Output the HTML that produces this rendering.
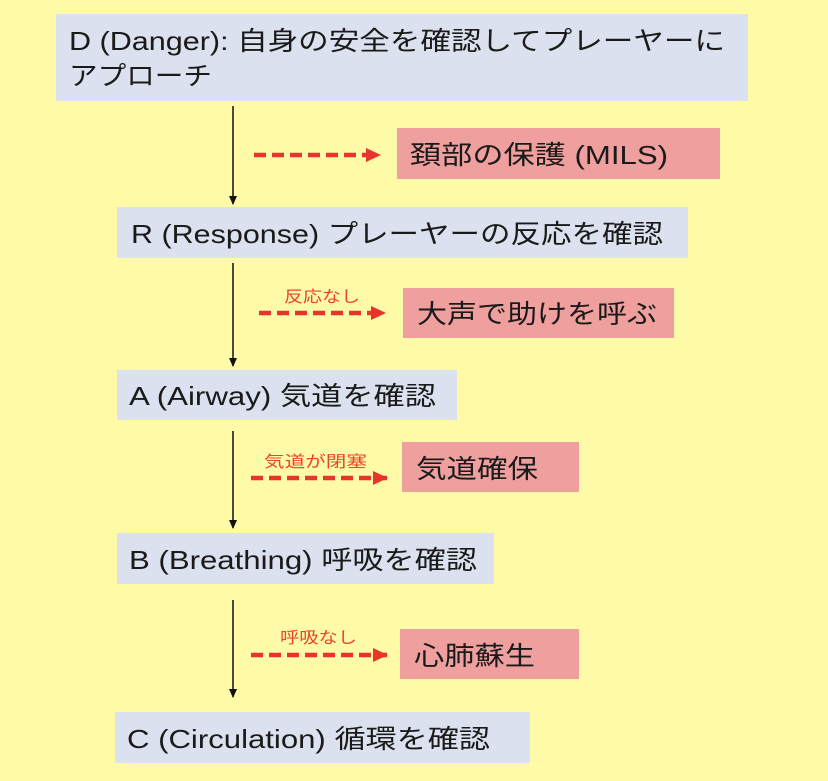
<!DOCTYPE html>
<html><head><meta charset="utf-8"><style>
html,body{margin:0;padding:0;background:#fffaa8;}
svg{display:block}
text{font-family:"Liberation Sans","Noto Sans CJK JP",sans-serif;fill:#1a1a1a}
.r{fill:#e8452e}
</style></head><body>
<svg width="828" height="781" viewBox="0 0 828 781">
<rect width="828" height="781" fill="#fffaa8"/>
<defs>
<marker id="a" markerWidth="10" markerHeight="10" refX="8" refY="5" orient="auto" markerUnits="userSpaceOnUse"><path d="M0,1 L9,5 L0,9z" fill="#111"/></marker>
<marker id="b" markerWidth="16" markerHeight="16" refX="14" refY="8" orient="auto" markerUnits="userSpaceOnUse"><path d="M0,1 L15,8 L0,15z" fill="#e8342a"/></marker>
</defs>
<g fill="#dbe1ee">
<rect x="56" y="14" width="692" height="87"/>
<rect x="117" y="207" width="571" height="51"/>
<rect x="117" y="370" width="340" height="50"/>
<rect x="117" y="533" width="377" height="51"/>
<rect x="115" y="712" width="415" height="51"/>
</g>
<g fill="#ef9f9d">
<rect x="397" y="128" width="323" height="51"/>
<rect x="403" y="288" width="271" height="50"/>
<rect x="402" y="442" width="177" height="50"/>
<rect x="400" y="629" width="179" height="50"/>
</g>
<g stroke="#111" stroke-width="1.5" marker-end="url(#a)">
<line x1="233" y1="106" x2="233" y2="204"/>
<line x1="233" y1="263" x2="233" y2="366"/>
<line x1="233" y1="431" x2="233" y2="528"/>
<line x1="233" y1="600" x2="233" y2="697"/>
</g>
<g stroke="#e8342a" stroke-width="4.5" stroke-dasharray="12,6" marker-end="url(#b)">
<line x1="254" y1="155" x2="380" y2="155"/>
<line x1="259" y1="313" x2="385" y2="313"/>
<line x1="251" y1="478" x2="387" y2="478"/>
<line x1="251" y1="655" x2="387" y2="655"/>
</g>
<g font-size="26" lengthAdjust="spacingAndGlyphs">
<text x="69" y="50" textLength="656" lengthAdjust="spacingAndGlyphs">D (Danger): 自身の安全を確認してプレーヤーに</text>
<text x="69" y="85" textLength="143" lengthAdjust="spacingAndGlyphs">アプローチ</text>
<text x="131" y="243" textLength="532" lengthAdjust="spacingAndGlyphs">R (Response) プレーヤーの反応を確認</text>
<text x="129" y="405" textLength="307" lengthAdjust="spacingAndGlyphs">A (Airway) 気道を確認</text>
<text x="129" y="569" textLength="348" lengthAdjust="spacingAndGlyphs">B (Breathing) 呼吸を確認</text>
<text x="127" y="748" textLength="363" lengthAdjust="spacingAndGlyphs">C (Circulation) 循環を確認</text>
<text x="410" y="164" textLength="258" lengthAdjust="spacingAndGlyphs">頚部の保護 (MILS)</text>
<text x="417" y="323" textLength="240" lengthAdjust="spacingAndGlyphs">大声で助けを呼ぶ</text>
<text x="416" y="478" textLength="122" lengthAdjust="spacingAndGlyphs">気道確保</text>
<text x="414" y="665" textLength="121" lengthAdjust="spacingAndGlyphs">心肺蘇生</text>
</g>
<g font-size="16">
<text class="r" x="284" y="302" textLength="76" lengthAdjust="spacingAndGlyphs">反応なし</text>
<text class="r" x="264" y="467" textLength="103" lengthAdjust="spacingAndGlyphs">気道が閉塞</text>
<text class="r" x="280" y="643" textLength="77" lengthAdjust="spacingAndGlyphs">呼吸なし</text>
</g>
</svg>
</body></html>
